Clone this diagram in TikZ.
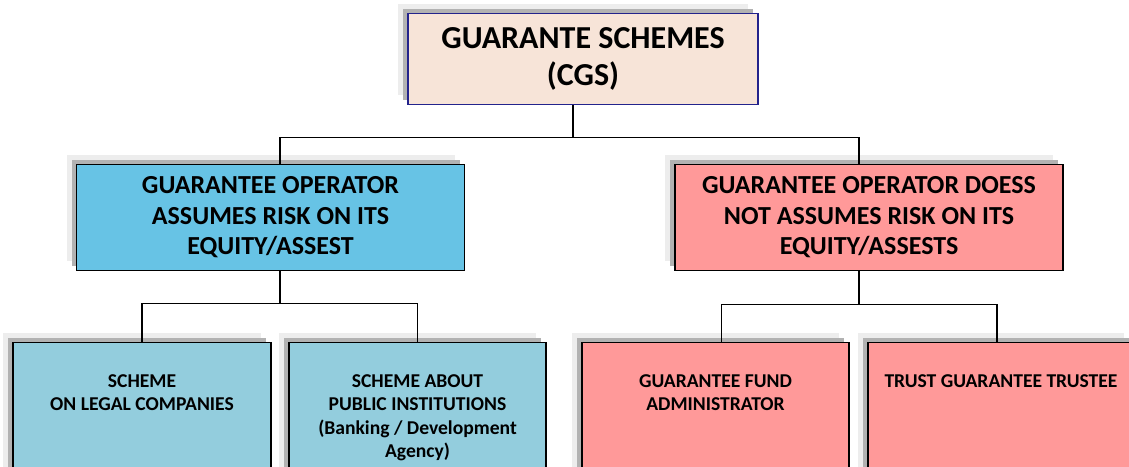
\documentclass[tikz,border=0pt]{standalone}
\usepackage{fontspec}
\setmainfont{Carlito}
\usetikzlibrary{positioning, shadows}

\definecolor{peach}{HTML}{F7E4D8}
\definecolor{navyline}{HTML}{23238C}
\definecolor{skyblue}{HTML}{67C3E5}
\definecolor{paleblue}{HTML}{93CDDD}
\definecolor{salmon}{HTML}{FF9999}

\begin{document}
\begin{tikzpicture}[x=1pt, y=1pt, node distance=2cm, on grid]
        \useasboundingbox (0,0) rectangle (1129,-466);
        % Boxes with a two-step grey shadow to the upper left
        \tikzset{box/.style={draw=black, line width=1.4pt, align=center, inner sep=0pt,
                general shadow={fill=black!7, shadow xshift=-10pt, shadow yshift=10pt},
                general shadow={fill=black!30, shadow xshift=-5pt, shadow yshift=5pt}}}
        \tikzset{topbox/.style={box, draw=navyline, fill=peach, minimum width=350pt, minimum height=91pt,
                font=\bfseries\fontsize{32}{37}\selectfont}}
        \tikzset{midbox/.style={box, minimum width=388pt, minimum height=106pt,
                font=\bfseries\fontsize{26}{30.5}\selectfont}}
        \tikzset{lowbox/.style={box, minimum height=150pt}}
        \tikzset{lowtext/.style={align=center, inner sep=0pt, anchor=north,
                font=\bfseries\fontsize{19.6}{23.5}\selectfont}}
        \tikzset{wire/.style={line width=1.1pt}}

        \node[topbox] (cgs) at (583,-59) {GUARANTE SCHEMES\\(CGS)};
        \node[midbox,fill=skyblue] (risk) [below left=158.5pt and 312.5pt of cgs]
                {GUARANTEE OPERATOR\\ASSUMES RISK ON ITS\\EQUITY/ASSEST};
        \node[midbox,fill=salmon] (norisk) [below right=158.5pt and 286pt of cgs]
                {GUARANTEE OPERATOR DOESS\\NOT ASSUMES RISK ON ITS\\EQUITY/ASSESTS};

        \node[lowbox,fill=paleblue,minimum width=258pt] (legal) [below left=200pt and 128.5pt of risk] {};
        \node[lowbox,fill=paleblue,minimum width=257pt] (public) [below right=200pt and 147pt of risk] {};
        \node[lowbox,fill=salmon,minimum width=267pt] (fund) [below left=200pt and 153.5pt of norisk] {};
        \node[lowbox,fill=salmon,minimum width=266pt] (trust) [below right=200pt and 132pt of norisk] {};

        \node[lowtext] (legalTxt) at ([yshift=-32.5pt]legal.north) {SCHEME\\ON LEGAL COMPANIES};
        \node[lowtext] (publicTxt) at ([yshift=-32.5pt]public.north)
                {SCHEME ABOUT\\PUBLIC INSTITUTIONS\\(Banking / Development\\Agency)};
        \node[lowtext] (fundTxt) at ([yshift=-32.5pt]fund.north) {GUARANTEE FUND\\ADMINISTRATOR};
        \node[lowtext] (trustTxt) at ([yshift=-32.5pt]trust.north) {TRUST GUARANTEE TRUSTEE};

        \draw[wire] ([xshift=-10pt]cgs.south) -- ++(0,-32) -| ([xshift=9.5pt]risk.north);
        \draw[wire] ([xshift=-10pt]cgs.south) -- ++(0,-32) -| ([xshift=-10pt]norisk.north);
        \draw[wire] ([xshift=9.5pt]risk.south) -- ++(0,-32) -| (legal.north);
        \draw[wire] ([xshift=9.5pt]risk.south) -- ++(0,-32) -| (public.north);
        \draw[wire] ([xshift=-10pt]norisk.south) -- ++(0,-33) -| ([xshift=6pt]fund.north);
        \draw[wire] ([xshift=-10pt]norisk.south) -- ++(0,-33) -| ([xshift=-4pt]trust.north);
    \end{tikzpicture}
\end{document}
